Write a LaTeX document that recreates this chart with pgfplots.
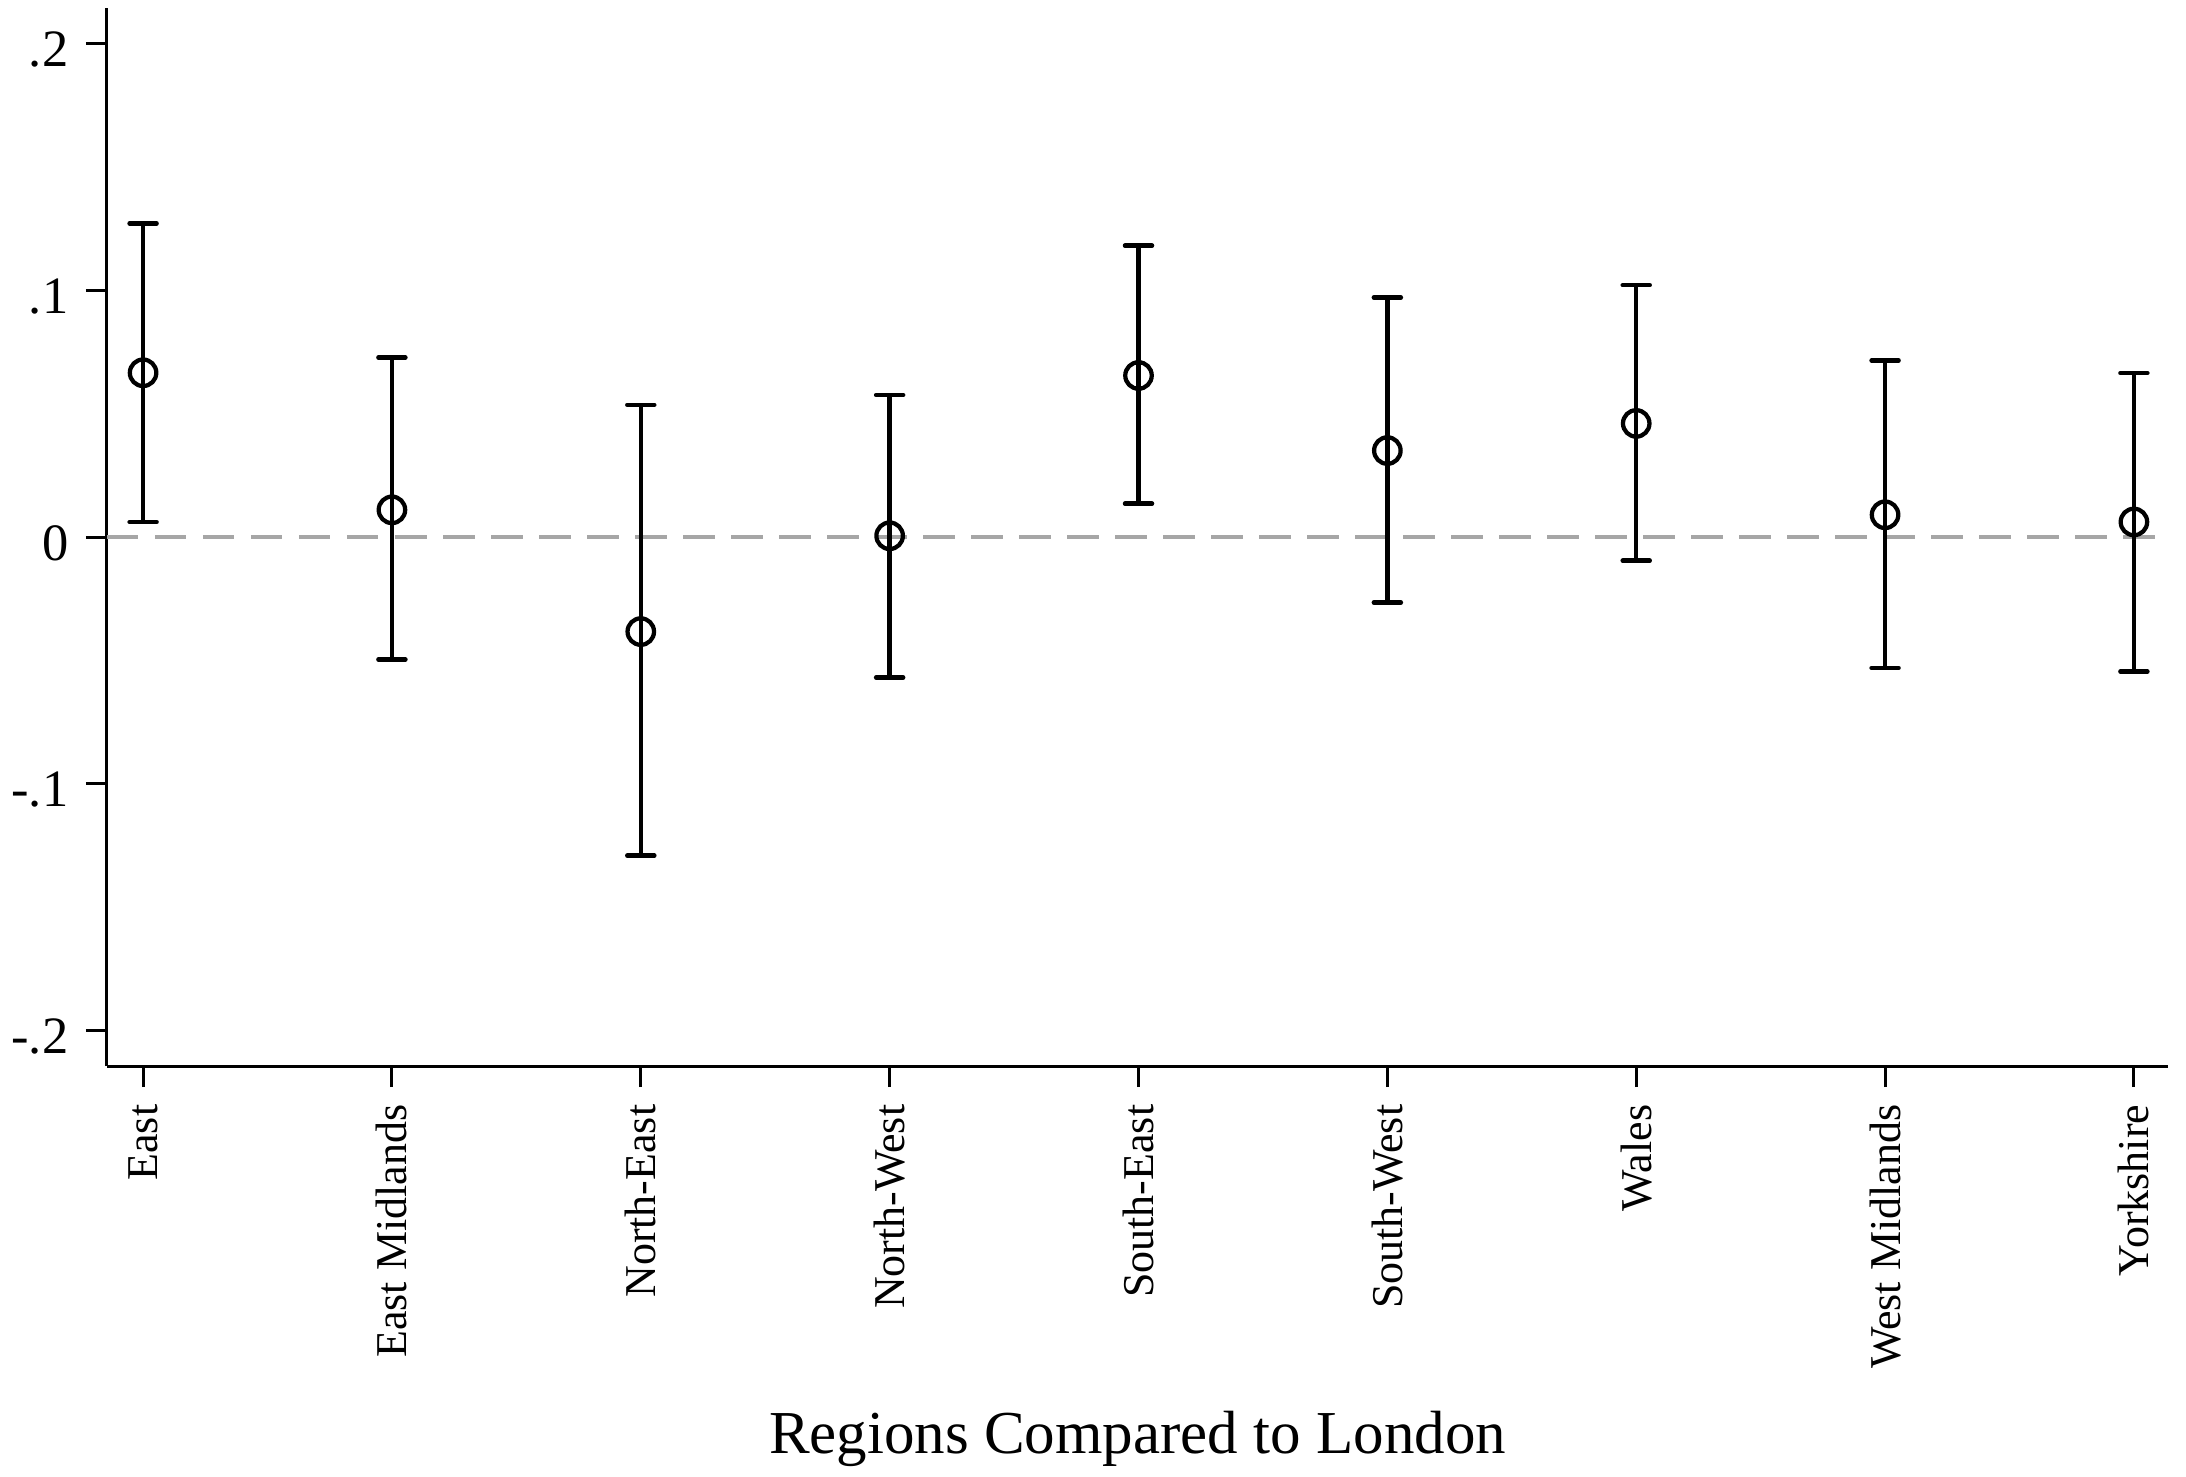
\documentclass[border=0pt]{standalone}
\usepackage{fontspec}
\setmainfont{Liberation Serif}
\usepackage{pgfplots}
\pgfplotsset{compat=1.18}
\begin{document}
\begin{tikzpicture}
\begin{axis}[
  scale only axis,
  width=412.2pt, height=211.6pt,
  xmin=-0.145, xmax=8.137,
  ymin=-0.2142, ymax=0.2142,
  axis x line*=bottom, axis y line*=left,
  axis line style={line width=0.6pt, black},
  tick align=outside,
  major tick length=4.2pt,
  tick style={line width=0.6pt, black},
  xtick={0,1,2,3,4,5,6,7,8},
  xticklabels={East,East Midlands,North-East,North-West,South-East,South-West,Wales,West Midlands,Yorkshire},
  xticklabel style={rotate=90, anchor=east, font=\fontsize{8.8}{10}\selectfont},
  ytick={-0.2,-0.1,0,0.1,0.2},
  yticklabels={-.2,-.1,0,.1,.2},
  yticklabel style={font=\fontsize{10.5}{12}\selectfont, yshift=-1.2pt},
  /pgf/number format/assume math mode=true,
  xlabel={Regions Compared to London},
  xlabel style={font=\fontsize{12.2}{14}\selectfont, at={(axis description cs:0.5,0)}, anchor=base, yshift=-77.4pt},
  clip=false,
]
\coordinate (O) at (rel axis cs:0,0);
\addplot[gray!70, line width=0.85pt, dash pattern=on 6.3pt off 3.3pt] coordinates {(-0.145,0) (8.137,0)};
\addplot[black, only marks, mark=o, mark size=2.65pt, mark options={line width=0.85pt},
  error bars/.cd, y dir=both, y explicit,
  error bar style={line width=0.9pt, black},
  error mark options={rotate=90, line width=0.9pt, line cap=round, mark size=2.7pt, black}]
coordinates {
  (0, 0.0665) += (0, 0.0605) -= (0, 0.0604)
  (1, 0.0110) += (0, 0.0617) -= (0, 0.0606)
  (2,-0.0383) += (0, 0.0918) -= (0, 0.0907)
  (3, 0.0005) += (0, 0.0570) -= (0, 0.0574)
  (4, 0.0654) += (0, 0.0526) -= (0, 0.0519)
  (5, 0.0350) += (0, 0.0620) -= (0, 0.0615)
  (6, 0.0460) += (0, 0.0560) -= (0, 0.0556)
  (7, 0.0090) += (0, 0.0625) -= (0, 0.0620)
  (8, 0.0061) += (0, 0.0603) -= (0, 0.0606)
};
\end{axis}
\pgfresetboundingbox
\useasboundingbox (O) ++(-21.4pt,-82pt) rectangle ++(437.2pt,295.2pt);
\end{tikzpicture}
\end{document}
